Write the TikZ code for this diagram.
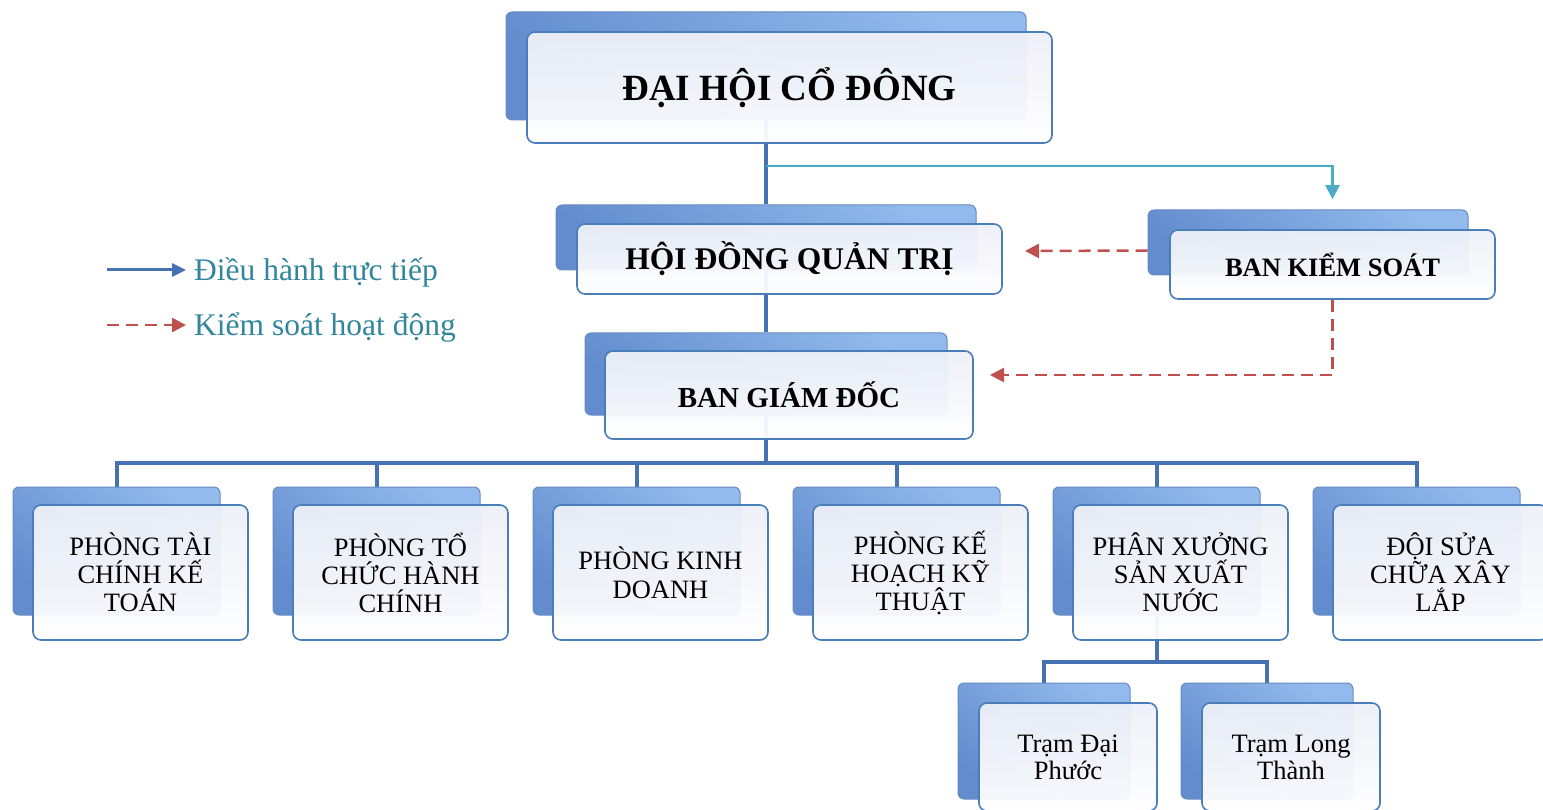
\documentclass[tikz,border=0pt]{standalone}
\usepackage{fontspec}
\setmainfont{Liberation Serif}
\usetikzlibrary{arrows.meta,backgrounds}

\definecolor{khung}{RGB}{74,126,187}
\definecolor{truc}{RGB}{70,114,180}
\definecolor{xanhngoc}{RGB}{75,172,198}
\definecolor{dokiem}{RGB}{192,80,77}
\definecolor{chuchu}{RGB}{49,133,156}
\definecolor{sautren}{RGB}{146,186,236}
\definecolor{sauduoi}{RGB}{98,140,205}
\definecolor{nentren}{RGB}{236,239,247}

\begin{document}
\begin{tikzpicture}[x=1pt, y=-1pt,
        back_box/.style={rectangle, rounded corners=6pt, top color=sautren, bottom color=sauduoi, shading angle=-40, draw=sauduoi!85!gray, line width=1pt, inner sep=0pt},
        front_box/.style={rectangle, rounded corners=8pt, top color=nentren, bottom color=white, draw=khung, line width=1.6pt, align=center, inner sep=0pt, fill opacity=0.95, text opacity=1},
        title_text/.style={font=\bfseries\fontsize{#1}{#1}\selectfont},
        dept_text/.style={font=\fontsize{26.5}{28}\selectfont},
        main_line/.style={draw=truc, line width=4pt},
        tt_line/.style={draw=xanhngoc, line width=2.5pt, -{Triangle[length=14pt,width=14pt]}},
        ks_line/.style={draw=dokiem, line width=2.5pt, dash pattern=on 12pt off 7pt, -{Triangle[length=14pt,width=14pt]}},
        legend_text/.style={font=\fontsize{31.5}{34}\selectfont, text=chuchu, inner sep=0pt}
    ]
    \useasboundingbox (0,0) rectangle (1543,810);
    \clip (0,0) rectangle (1543,810);

    % Dai hoi co dong
    \node[back_box, minimum width=520pt, minimum height=108pt] (dhcd-b) at (766,66) {};
    \node[front_box, minimum width=525pt, minimum height=111pt, title_text=37] (dhcd) at (789.5,87.5) {ĐẠI HỘI CỔ ĐÔNG};

    % Hoi dong quan tri
    \node[back_box, minimum width=420pt, minimum height=65pt] (hdqt-b) at (766,237.5) {};
    \node[front_box, minimum width=425pt, minimum height=70pt, title_text=31.5] (hdqt) at (789.5,259) {HỘI ĐỒNG QUẢN TRỊ};

    % Ban kiem soat
    \node[back_box, minimum width=320pt, minimum height=65pt] (bks-b) at (1308,242.5) {};
    \node[front_box, minimum width=325pt, minimum height=69pt, title_text=26.5] (bks) at (1332.5,264.5) {BAN KIỂM SOÁT};

    % Ban giam doc
    \node[back_box, minimum width=362pt, minimum height=82pt] (bgd-b) at (766,374) {};
    \node[front_box, minimum width=368pt, minimum height=88pt, title_text=29] (bgd) at (789,395) {BAN GIÁM ĐỐC};

    % Cac phong ban
    \node[back_box, minimum width=207pt, minimum height=128pt] (p1-b) at (116.5,551) {};
    \node[front_box, minimum width=215pt, minimum height=135pt, dept_text] (p1) at (140.5,572.5) {PHÒNG TÀI\\CHÍNH KẾ\\TOÁN};
    \node[back_box, minimum width=207pt, minimum height=128pt] (p2-b) at (376.5,551) {};
    \node[front_box, minimum width=215pt, minimum height=135pt, dept_text] (p2) at (400.5,572.5) {PHÒNG TỔ\\CHỨC HÀNH\\CHÍNH};
    \node[back_box, minimum width=207pt, minimum height=128pt] (p3-b) at (636.5,551) {};
    \node[front_box, minimum width=215pt, minimum height=135pt, dept_text, font=\fontsize{26.5}{29}\selectfont] (p3) at (660.5,572.5) {PHÒNG KINH\\DOANH};
    \node[back_box, minimum width=207pt, minimum height=128pt] (p4-b) at (896.5,551) {};
    \node[front_box, minimum width=215pt, minimum height=135pt, dept_text] (p4) at (920.5,572.5) {PHÒNG KẾ\\HOẠCH KỸ\\THUẬT};
    \node[back_box, minimum width=207pt, minimum height=128pt] (p5-b) at (1156.5,551) {};
    \node[front_box, minimum width=215pt, minimum height=135pt, dept_text] (p5) at (1180.5,572.5) {PHÂN XƯỞNG\\SẢN XUẤT\\NƯỚC};
    \node[back_box, minimum width=207pt, minimum height=128pt] (p6-b) at (1416.5,551) {};
    \node[front_box, minimum width=215pt, minimum height=135pt, dept_text] (p6) at (1440.5,572.5) {ĐỘI SỬA\\CHỮA XÂY\\LẮP};

    % Cac tram
    \node[back_box, minimum width=172pt, minimum height=116pt] (tdp-b) at (1044,741) {};
    \node[front_box, minimum width=178pt, minimum height=108pt, font=\fontsize{26.5}{27}\selectfont] (tdp) at (1068,757) {Trạm Đại\\Phước};
    \node[back_box, minimum width=172pt, minimum height=116pt] (tlt-b) at (1267,741) {};
    \node[front_box, minimum width=178pt, minimum height=108pt, font=\fontsize{26.5}{27}\selectfont] (tlt) at (1291,757) {Trạm Long\\Thành};

    % Duong noi
    \begin{scope}[on background layer]
        \coordinate (tach) at (766,166);
        \coordinate (bus) at (766,463);
        \coordinate (bus2) at (1156.5,662);
        \draw[main_line] (dhcd-b.south) -- (hdqt-b.north);
        \draw[main_line] (hdqt-b.south) -- (bgd-b.north);
        \draw[main_line] (bgd-b.south) -- (bus);
        \draw[main_line] (p1-b.north) |- (bus) -| (p6-b.north);
        \draw[main_line] (bus -| p2-b.north) -- (p2-b.north);
        \draw[main_line] (bus -| p3-b.north) -- (p3-b.north);
        \draw[main_line] (bus -| p4-b.north) -- (p4-b.north);
        \draw[main_line] (bus -| p5-b.north) -- (p5-b.north);
        \draw[main_line] (p5-b.south) -- (bus2);
        \draw[main_line] (tdp-b.north) |- (bus2) -| (tlt-b.north);

        % Kiem soat
        \coordinate (dich1) at (1025,251);
        \coordinate (dich2) at (990,375);
        \draw[tt_line] (tach) -| ([yshift=30pt]bks.north);
        \draw[ks_line] ([yshift=-8pt]bks-b.west) -- (dich1);
        \draw[ks_line] (bks.south) |- (dich2);
    \end{scope}

    % Chu thich
    \coordinate (dh_a) at (107,270);
    \coordinate (dh_b) at (186,270);
    \coordinate (ks_a) at (107,325);
    \coordinate (ks_b) at (186,325);
    \draw[draw=truc, line width=3pt, -{Triangle[length=14pt,width=13pt]}] (dh_a) -- (dh_b);
    \draw[ks_line, line width=2.5pt] (ks_a) -- (ks_b);
    \node[legend_text, anchor=base west] (dh) at (194,281) {Điều hành trực tiếp};
    \node[legend_text, anchor=base west] (ks) at (194,336) {Kiểm soát hoạt động};
\end{tikzpicture}
\end{document}
